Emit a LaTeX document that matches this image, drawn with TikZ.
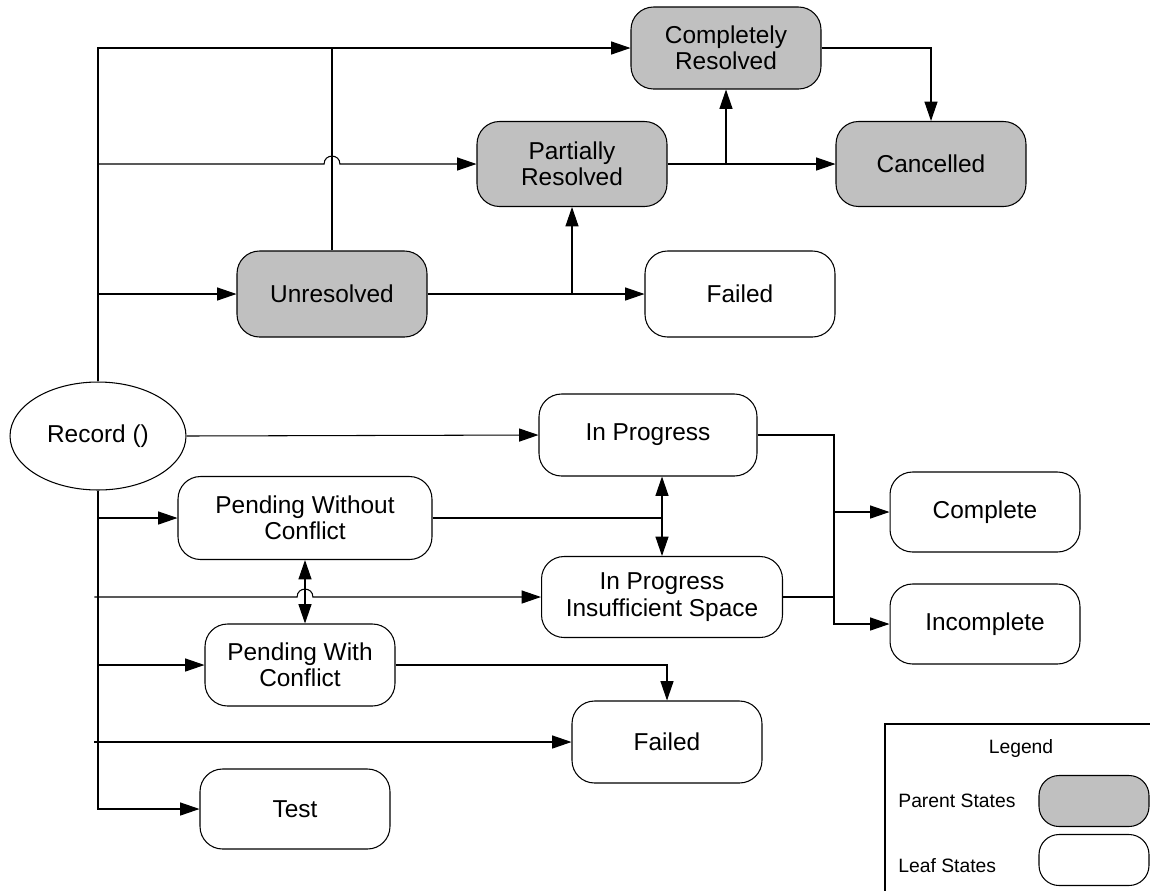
\documentclass[tikz,border=0pt]{standalone}
\usepackage{fontspec}
\setmainfont{Liberation Sans}
\usepackage{xcolor}
\usetikzlibrary{positioning,shapes,arrows.meta}

\definecolor{parentgray}{HTML}{C0C0C0}
\newcommand{\statefont}{\fontsize{13.9pt}{15pt}\selectfont}
\newcommand{\legendfont}{\fontsize{11pt}{13pt}\selectfont}

\begin{document}
\begin{tikzpicture}[
    x=0.02cm, y=-0.02cm,
    state/.style={rectangle, draw, fill=white, align=center, rounded corners=0.45cm, minimum width=3.8cm, minimum height=1.64cm, inner sep=2pt, line width=0.6pt, font=\statefont},
    parent/.style={state, fill=parentgray},
    line/.style={draw, -{Triangle[length=11pt, width=7.4pt]}, line width=0.6pt},
    dline/.style={draw, {Triangle[length=11pt, width=7.4pt]}-{Triangle[length=11pt, width=7.4pt]}, line width=0.6pt},
    wire/.style={draw, line width=0.6pt}
]
\useasboundingbox (0,0) rectangle (1150,890);

% Nodes
\node[parent] (cres) at (726,48) {Completely\\Resolved};
\node[parent, minimum height=1.7cm] (pres) at (572,164) {Partially\\Resolved};
\node[parent, minimum height=1.7cm] (canc) at (931,164) {Cancelled};
\node[parent, minimum height=1.72cm] (unres) at (332,294) {Unresolved};
\node[state, minimum height=1.72cm] (failtop) at (740,294) {Failed};
\node[draw, ellipse, minimum width=3.52cm, minimum height=2.16cm, line width=0.6pt, font=\statefont] (rec) at (98,436) {Record ()};
\node[state, minimum width=4.36cm] (inprog) at (648,435) {In Progress};
\node[state, minimum width=5.08cm, minimum height=1.66cm] (pwo) at (305,518) {Pending Without\\Conflict};
\node[state, minimum height=1.6cm] (compl) at (985,512) {Complete};
\node[state, minimum width=4.82cm, minimum height=1.62cm] (ins) at (662,597) {In Progress\\Insufficient Space};
\node[state, minimum height=1.6cm] (incompl) at (985,624) {Incomplete};
\node[state] (pwc) at (300,665) {Pending With\\Conflict};
\node[state] (failbot) at (667,742) {Failed};
\node[state, minimum height=1.6cm] (test) at (295,809) {Test};

% Legend
\draw[wire] (885,724) rectangle (1160,900);
\node[font=\legendfont] (legtitle) at (1021,748) {Legend};
\node[parent, minimum width=2.2cm, minimum height=1.02cm, rounded corners=0.4cm] (legparent) at (1094,801) {};
\node[state, minimum width=2.2cm, minimum height=1.02cm, rounded corners=0.4cm] (legleaf) at (1094,860) {};
\node[font=\legendfont, anchor=west, inner sep=0pt] (legparenttxt) at (898,801) {Parent States};
\node[font=\legendfont, anchor=west, inner sep=0pt] (legleaftxt) at (898,866) {Leaf States};

% Helper points
\coordinate (hopA) at (unres.north |- pres.west);
\coordinate (hopB) at (pwo.south |- ins.west);
\coordinate (trunkL) at ([xshift=-2pt]rec.south);
\coordinate (bus) at (834,0);

% Paths, upper part
\draw[line] (rec.north) |- (cres.west);
\draw[line] (rec.north |- pres.west) -- ([xshift=-4.5pt]hopA)
    .. controls ([xshift=-4.5pt, yshift=6pt]hopA) and ([xshift=4.5pt, yshift=6pt]hopA) .. ([xshift=4.5pt]hopA) -- (pres.west);
\draw[line] (rec.north |- unres.west) -- (unres.west);
\draw[wire] (unres.north) -- (unres.north |- cres.west);
\draw[line] (unres.east) -- (failtop.west);
\draw[line] (unres.east -| pres.south) -- (pres.south);
\draw[line] (pres.east) -- (canc.west);
\draw[line] (pres.east -| cres.south) -- (cres.south);
\draw[line] (cres.east) -| (canc.north);

% Paths, lower part
\draw[line] (rec.east) -- (inprog.west);
\draw[line] (rec.south) |- (test.west);
\draw[line] (rec.south |- pwo.west) -- (pwo.west);
\draw[line] (trunkL |- ins.west) -- ([xshift=-4.5pt]hopB)
    .. controls ([xshift=-4.5pt, yshift=6pt]hopB) and ([xshift=4.5pt, yshift=6pt]hopB) .. ([xshift=4.5pt]hopB) -- (ins.west);
\draw[line] (rec.south |- pwc.west) -- (pwc.west);
\draw[line] (trunkL |- failbot.west) -- (failbot.west);
\draw[dline] (pwo.south) -- (pwo.south |- pwc.north);
\draw[dline] (inprog.south -| ins.north) -- (ins.north);
\draw[wire] (pwo.east) -- (pwo.east -| ins.north);
\draw[line] (inprog.east) -| (bus |- incompl.west) -- (incompl.west);
\draw[line] (bus |- compl.west) -- (compl.west);
\draw[wire] (ins.east) -- (bus |- ins.east);
\draw[line] (pwc.east) -| (failbot.north);

\end{tikzpicture}
\end{document}
